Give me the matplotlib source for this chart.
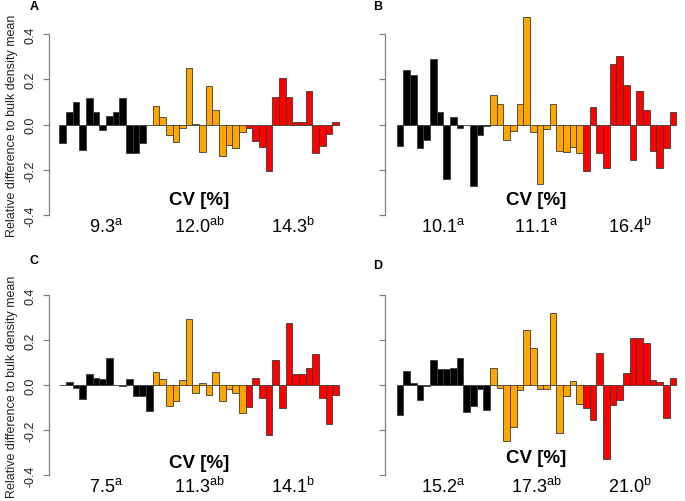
import numpy as np
import matplotlib
matplotlib.use("Agg")
import matplotlib.pyplot as plt

plt.rcParams["font.family"] = ["Liberation Sans", "DejaVu Sans"]
plt.rcParams["mathtext.fontset"] = "custom"
plt.rcParams["mathtext.rm"] = "Liberation Sans"

# relative difference to bulk density mean, 14 samples per group
a_black = [-0.081, 0.054, 0.099, -0.110, 0.116, 0.054, -0.022, 0.040, 0.054, 0.116, -0.125, -0.125, -0.081, -0.003]
a_orange = [0.081, 0.034, -0.044, -0.075, -0.013, 0.249, 0.002, -0.122, 0.172, 0.063, -0.137, -0.090, -0.104, -0.031]
a_red = [-0.015, -0.071, -0.097, -0.206, 0.122, 0.204, 0.122, 0.013, 0.013, 0.150, -0.124, -0.096, -0.043, 0.013]

b_black = [-0.096, 0.241, 0.219, -0.101, -0.068, 0.288, 0.054, -0.240, 0.034, -0.015, -0.003, -0.269, -0.044, -0.006]
b_orange = [0.131, 0.090, -0.066, -0.029, 0.091, 0.475, -0.034, -0.263, -0.021, 0.090, -0.115, -0.122, -0.099, -0.125]
b_red = [-0.206, 0.076, -0.126, -0.193, 0.266, 0.303, 0.175, -0.156, 0.149, 0.063, -0.115, -0.193, -0.101, 0.054]

c_black = [0.002, 0.013, -0.013, -0.059, 0.049, 0.034, 0.030, 0.120, 0.002, -0.003, 0.027, -0.049, -0.047, -0.114]
c_orange = [0.058, 0.028, -0.092, -0.070, 0.022, 0.296, -0.036, 0.012, -0.044, 0.058, -0.068, -0.018, -0.036, -0.124]
c_red = [-0.095, 0.033, -0.056, -0.219, 0.111, -0.102, 0.276, 0.052, 0.049, 0.076, 0.139, -0.056, -0.173, -0.041]

d_black = [-0.132, 0.064, 0.009, -0.064, -0.002, 0.114, 0.071, 0.071, 0.079, 0.120, -0.117, -0.092, -0.018, -0.111]
d_orange = [0.079, -0.013, -0.247, -0.184, -0.021, 0.244, 0.167, -0.016, -0.016, 0.321, -0.210, -0.047, 0.018, -0.083]
d_red = [-0.102, -0.154, 0.142, -0.329, -0.089, -0.065, 0.055, 0.209, 0.209, 0.187, 0.025, 0.013, -0.147, 0.031]

panels = {
    "A": [a_black, a_orange, a_red],
    "B": [b_black, b_orange, b_red],
    "C": [c_black, c_orange, c_red],
    "D": [d_black, d_orange, d_red],
}
cv_values = {
    "A": [("9.3", "a"), ("12.0", "ab"), ("14.3", "b")],
    "B": [("10.1", "a"), ("11.1", "a"), ("16.4", "b")],
    "C": [("7.5", "a"), ("11.3", "ab"), ("14.1", "b")],
    "D": [("15.2", "a"), ("17.3", "ab"), ("21.0", "b")],
}
yticks = [-0.4, -0.2, 0.0, 0.2, 0.4]
colors = ["#000000", "#FFA500", "#FF0000"]

W, H = 685, 502
fig = plt.figure(figsize=(W / 100, H / 100), dpi=100)

# axes boxes in pixels: (spine x, left offset in bar units, top px, bottom px)
boxes = {
    "A": (49.3, 1.5, 12.4, 227.7),
    "B": (385.0, 1.75, 12.4, 227.7),
    "C": (49.3, 1.5, 273.8, 487.6),
    "D": (385.0, 1.75, 273.8, 487.6),
}
cv_y = {"A": -0.328, "B": -0.328, "C": -0.341, "D": -0.320}
letter_pos = {"A": (34, 7.5), "B": (378, 7.5), "C": (34, 261), "D": (378, 266)}
barw_px = 6.66

for key, groups in panels.items():
    sx, off, top, bot = boxes[key]
    xmin = -0.5 - off
    xmax = 42.0
    width_px = (xmax - xmin) * barw_px
    ax = fig.add_axes([sx / W, 1 - bot / H, width_px / W, (bot - top) / H])

    vals = np.concatenate(groups)
    cols = np.repeat(colors, [len(g) for g in groups])
    x = np.arange(len(vals))
    ax.bar(x, vals, width=1.0, color=cols, edgecolor="#3a3a3a", linewidth=0.6)

    ax.set_xlim(xmin, xmax)
    ax.set_ylim(-0.45, 0.5)
    for s in ["top", "right", "bottom"]:
        ax.spines[s].set_visible(False)
    ax.spines["left"].set_bounds(-0.4, 0.4)
    ax.spines["left"].set_color("#808080")
    ax.spines["left"].set_linewidth(0.9)
    ax.set_xticks([])
    ax.set_yticks(yticks)
    ax.tick_params(axis="y", direction="out", length=4, width=0.9, color="#808080",
                   labelsize=9, labelcolor="#222222", pad=5, labelrotation=90)
    if key in ("A", "C"):
        ax.set_yticklabels([f"{t:.1f}" for t in yticks], va="center")
    else:
        ax.set_yticklabels([])
    ax.patch.set_alpha(0)

    ax.text(20.5, cv_y[key], "CV [%]", ha="center", va="center", fontsize=13.5,
            fontweight="bold", clip_on=False)
    centers = [6.5, 20.5, 34.5]
    for cx, (num, sup) in zip(centers, cv_values[key]):
        ax.text(cx, -0.447, r"$\mathregular{" + num + "^{" + sup + "}}$", ha="center",
                va="center", fontsize=13, clip_on=False)

    lx, ly = letter_pos[key]
    fig.text(lx / W, 1 - ly / H, key, ha="center", va="center", fontsize=9, fontweight="bold")

    if key in ("A", "C"):
        zero_y = (top + 0.5 * (bot - top) / 0.95)
        fig.text(12 / W, 1 - zero_y / H, "Relative difference to bulk density mean",
                 rotation=90, ha="center", va="center", fontsize=9, color="#222222")

fig.savefig("out.png", dpi=100)
